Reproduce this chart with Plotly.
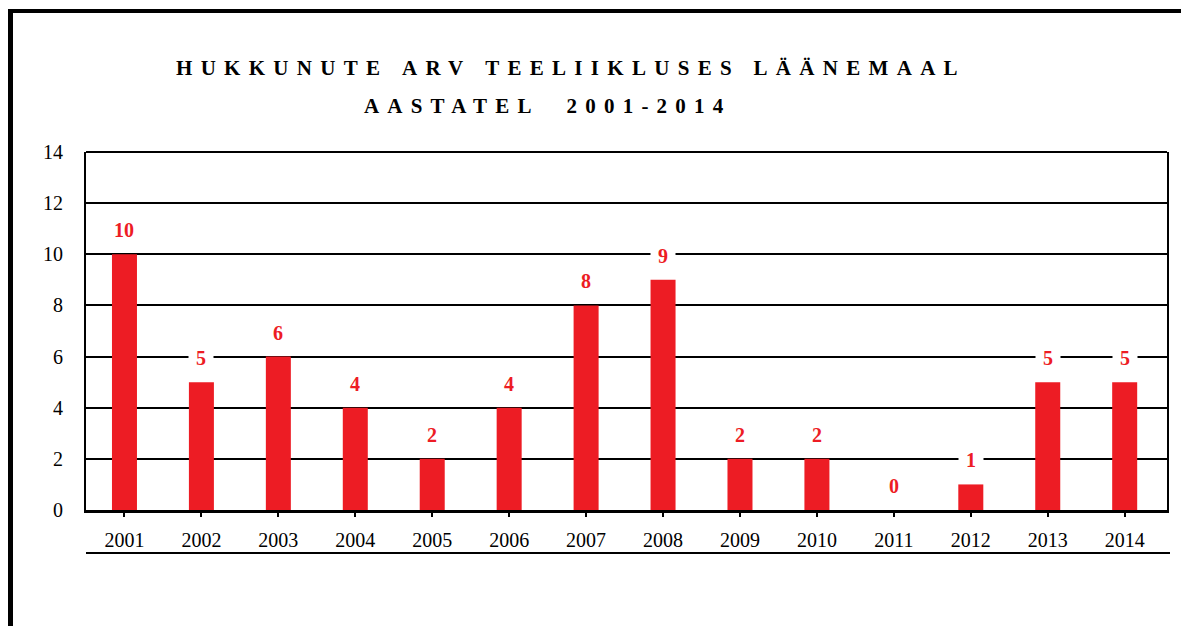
import plotly.graph_objects as go

# data
years = ["2001", "2002", "2003", "2004", "2005", "2006", "2007",
         "2008", "2009", "2010", "2011", "2012", "2013", "2014"]
deaths = [10, 5, 6, 4, 2, 4, 8, 9, 2, 2, 0, 1, 5, 5]
y_ticks = [0, 2, 4, 6, 8, 10, 12, 14]

title_1 = "HUKKUNUTE ARV TEELIIKLUSES LÄÄNEMAAL"
title_2 = "AASTATEL  2001-2014"

RED = "#ED1C24"
SERIF = "Liberation Serif, Times New Roman, serif"

W, H = 1181, 626
L, R, T, B = 86, 14, 152, 116
pw, ph = W - L - R, H - T - B


def px_x(x):
    return (x - L) / pw


def px_y(y):
    return (H - B - y) / ph


fig = go.Figure()
fig.add_trace(go.Bar(x=years, y=deaths, marker=dict(color=RED, line_width=0),
                     hoverinfo="x+y"))

# value labels, white box breaks the grid line behind it
# (x given as category index - numeric strings would be read as indices anyway)
for i, v in enumerate(deaths):
    fig.add_annotation(x=i, y=v, text="\u00a0" + str(v) + "\u00a0", showarrow=False,
                       yanchor="middle", yshift=24, bgcolor="white", borderpad=2,
                       font=dict(family=SERIF, size=20, color=RED, weight="bold"))


def spaced(txt, ls):
    return "<span style='letter-spacing:%spx'>%s</span>" % (ls, txt.replace(" ", "\u00a0"))


fig.add_annotation(xref="paper", yref="paper", x=px_x(571), y=px_y(68),
                   text=spaced(title_1, 8.3), showarrow=False,
                   xanchor="center", yanchor="middle",
                   font=dict(family=SERIF, size=21, color="black", weight="bold"))
fig.add_annotation(xref="paper", yref="paper", x=px_x(547), y=px_y(106),
                   text=spaced(title_2, 8.2), showarrow=False,
                   xanchor="center", yanchor="middle",
                   font=dict(family=SERIF, size=21, color="black", weight="bold"))

# page border (left and top), top edge of the plot, underline below the years
fig.add_shape(type="line", xref="paper", yref="paper",
              x0=px_x(10.5), x1=px_x(10.5), y0=px_y(10), y1=px_y(H + 5),
              line=dict(color="black", width=5))
fig.add_shape(type="line", xref="paper", yref="paper",
              x0=px_x(8), x1=px_x(W + 5), y0=px_y(11), y1=px_y(11),
              line=dict(color="black", width=4))
fig.add_shape(type="line", xref="x domain", yref="y domain",
              x0=0, x1=1, y0=1, y1=1, line=dict(color="black", width=2))
fig.add_shape(type="line", xref="paper", yref="paper",
              x0=px_x(86), x1=px_x(1170), y0=px_y(553), y1=px_y(553),
              line=dict(color="black", width=2))

fig.update_layout(
    width=W, height=H, autosize=False,
    margin=dict(l=L, r=R, t=T, b=B),
    paper_bgcolor="white", plot_bgcolor="white",
    showlegend=False, bargap=0.675,
    font=dict(family=SERIF, color="black"),
)
fig.update_xaxes(type="category", range=[-0.5, len(years) - 0.45],
                 showline=True, linewidth=3, linecolor="black",
                 ticks="outside", ticklen=4, tickwidth=2, tickcolor="black",
                 ticklabelstandoff=6, showgrid=False,
                 tickfont=dict(family=SERIF, size=20, color="black"))
fig.update_yaxes(range=[0, 14], tickvals=y_ticks, showgrid=True, gridcolor="black",
                 gridwidth=2, zeroline=False, showline=True, mirror=True,
                 linewidth=2, linecolor="black", ticks="", ticklabelstandoff=17,
                 tickfont=dict(family=SERIF, size=20, color="black"))

fig.write_html("out.html", config={"displayModeBar": False},
               post_script="document.body.style.margin='0';")
